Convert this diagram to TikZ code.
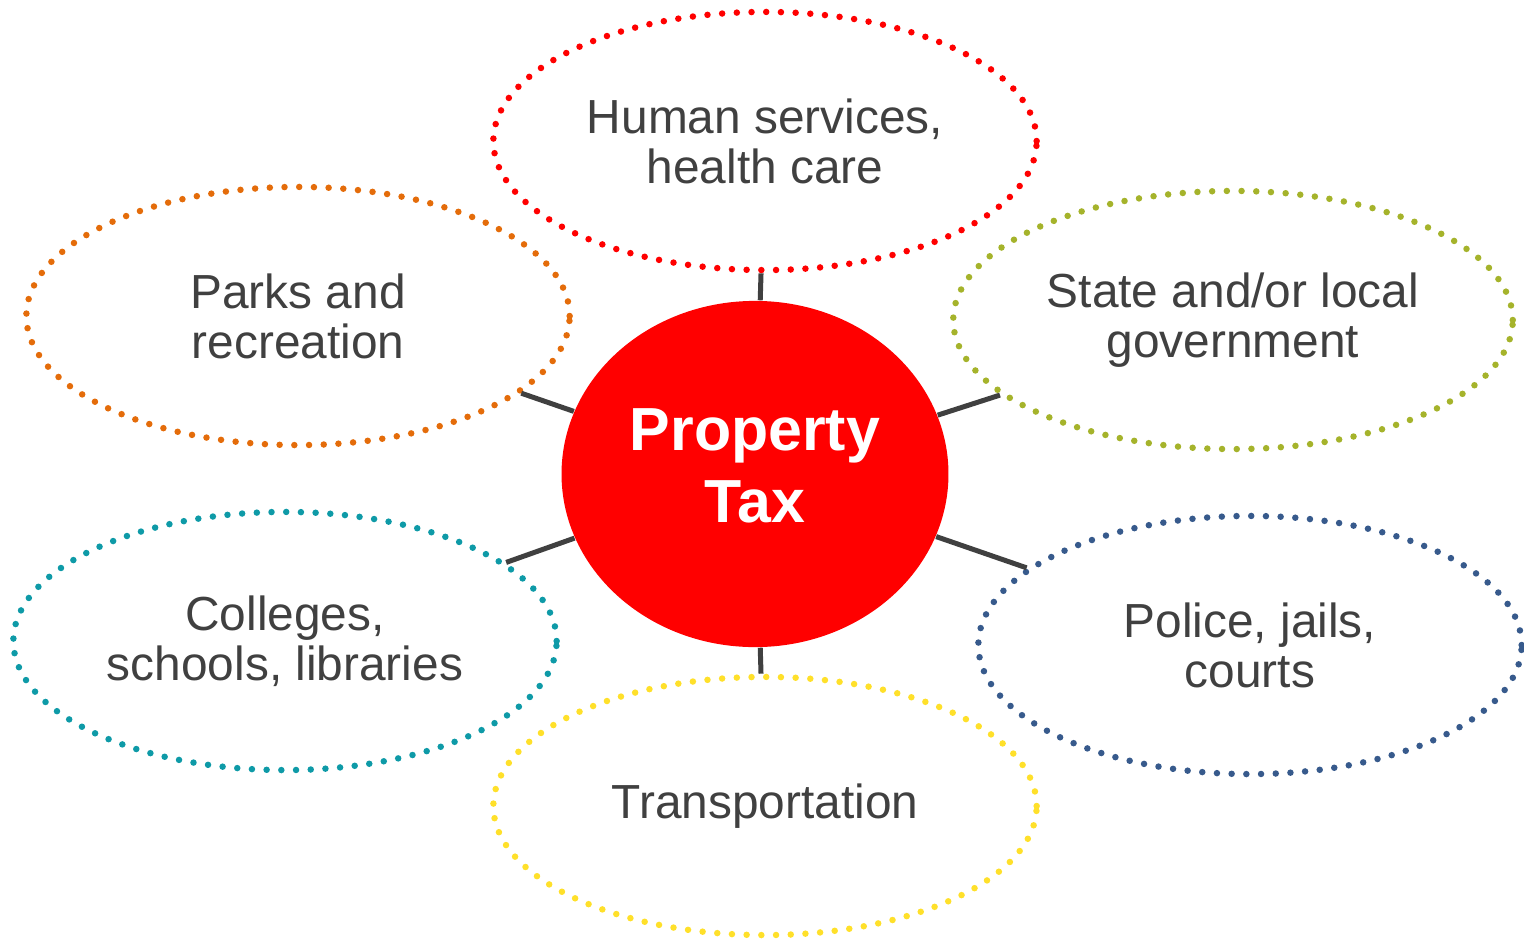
\documentclass[tikz,border=0pt]{standalone}
\usepackage{fontspec}
\setmainfont{Liberation Sans}
\usepackage{xcolor}
\usepackage{tikz}
\usetikzlibrary{shapes}
\definecolor{textgray}{HTML}{404040}
\definecolor{hsred}{HTML}{FF0000}
\definecolor{parkorange}{HTML}{E46C0A}
\definecolor{govolive}{HTML}{A5B32B}
\definecolor{eduteal}{HTML}{0E9AA7}
\definecolor{policeblue}{HTML}{375A8C}
\definecolor{roadyellow}{HTML}{FFE02A}
\tikzstyle{topic}=[ellipse,line width=0.065cm,line cap=round,dash pattern=on 0pt off 0.147cm,minimum width=5.43cm,minimum height=2.58cm,align=center,text=textgray,font=\fontsize{13.6}{14.2}\selectfont]
\tikzstyle{hub}=[ellipse,fill=hsred,minimum width=3.81cm,minimum height=3.46cm,align=center,text=white,font=\fontsize{17.3}{20.4}\selectfont\bfseries]
\tikzstyle{spoke}=[draw=textgray,line width=0.05cm]

\begin{document}
\begin{tikzpicture}[x=0.01cm,y=-0.01cm]
        \useasboundingbox (0,0) rectangle (1524,939);
        \node at (755,474)  [hub]                     (tax)    {\raisebox{5pt}{Property}\\\raisebox{5pt}{Tax}};
        \node at (765,141)  [topic,draw=hsred]        (human)  {Human services,\\health care};
        \node at (298,316)  [topic,draw=parkorange]   (parks)  {Parks and\\recreation};
        \node at (1233,320) [topic,draw=govolive]     (gov)    {State and/or local\\government};
        \node at (285,641)  [topic,draw=eduteal]      (school) {Colleges,\\schools, libraries};
        \node at (1250,645) [topic,draw=policeblue]   (police) {Police, jails,\\courts};
        \node at (765,806)  [topic,draw=roadyellow]   (road)   {Transportation};

        \draw [spoke] (tax) -- (human);
        \draw [spoke] (tax) -- (parks);
        \draw [spoke] (tax) -- (gov);
        \draw [spoke] (tax) -- (school);
        \draw [spoke] (tax) -- (police);
        \draw [spoke] (tax) -- (road);
      \end{tikzpicture}
\end{document}
